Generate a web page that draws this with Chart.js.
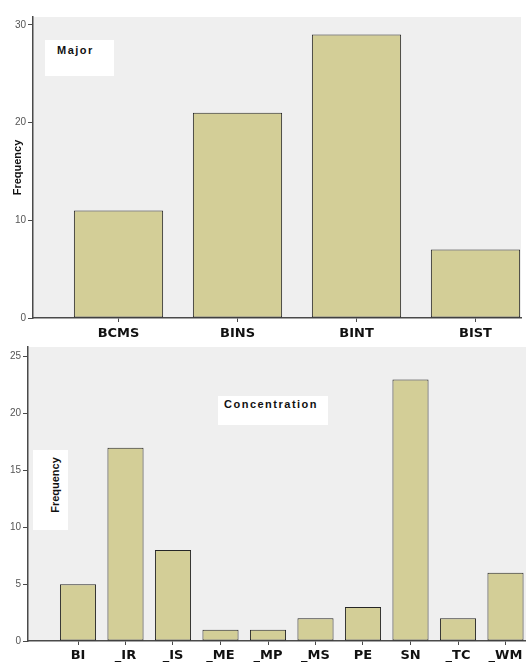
<!DOCTYPE html>
<html>
<head>
<meta charset="utf-8">
<script src="https://cdn.jsdelivr.net/npm/chart.js@4/dist/chart.umd.min.js"></script>
<style>
  html, body { margin: 0; padding: 0; background: #fff; }
  #wrap { position: relative; width: 526px; height: 662px; overflow: hidden; background: #fff; }
  canvas { position: absolute; left: 0; }
  #c1 { top: 0; }
  #c2 { top: 339px; }
  .box { position: absolute; background: #fff; }
  .lbl { position: absolute; font-family: "Liberation Sans", Arial, sans-serif; font-weight: bold; font-size: 11px; line-height: 11px; color: #111; letter-spacing: 1.5px; white-space: nowrap; }
  .rot { position: absolute; font-family: "Liberation Sans", Arial, sans-serif; font-weight: bold; font-size: 11px; line-height: 11px; color: #111; white-space: nowrap; transform: translate(-50%, -50%) rotate(-90deg); }
</style>
</head>
<body>
<div id="wrap">
  <canvas id="c1" width="526" height="340"></canvas>
  <canvas id="c2" width="526" height="323"></canvas>
  <div class="box" style="left:45px;top:40px;width:69px;height:36px;"></div>
  <div class="lbl" style="left:57px;top:45px;">Major</div>
  <div class="box" style="left:218px;top:396px;width:110px;height:29px;"></div>
  <div class="lbl" style="left:224px;top:399px;">Concentration</div>
  <div class="box" style="left:33px;top:450px;width:35px;height:80px;"></div>
  <div class="rot" style="left:55px;top:485px;">Frequency</div>
</div>
<script>
// ---- data ----
const majorLabels = ['BCMS', 'BINS', 'BINT', 'BIST'];
const majorValues = [11, 21, 29, 7];
const majorYTicks = [0, 10, 20, 30];

const concLabels = ['BI', '_IR', '_IS', '_ME', '_MP', '_MS', 'PE', 'SN', '_TC', '_WM'];
const concValues = [5, 17, 8, 1, 1, 2, 3, 23, 2, 6];
const concYTicks = [0, 5, 10, 15, 20, 25];

// ---- styling ----
const BAR_FILL = '#D3CE97';
const BAR_EDGE = '#262626';
const AXIS = '#4a4a4a';
const TICK_FONT = { family: '"Liberation Sans", Arial, sans-serif', size: 10 };
const CAT_FONT = { family: '"DejaVu Sans", Verdana, sans-serif', size: 13, weight: 'bold' };

const areaBg = {
  id: 'areaBg',
  beforeDraw(chart) {
    const { ctx, chartArea: a } = chart;
    ctx.save();
    ctx.fillStyle = '#EFEFEF';
    ctx.fillRect(a.left, a.top, a.right - a.left, a.bottom - a.top);
    ctx.restore();
  }
};

function makeChart(id, labels, values, yTicks, cfg) {
  const data = values.map((v, i) => ({ x: i + 1, y: v }));
  return new Chart(document.getElementById(id), {
    type: 'bar',
    data: {
      datasets: [{
        data: data,
        backgroundColor: BAR_FILL,
        borderColor: BAR_EDGE,
        borderWidth: 1,
        borderSkipped: false,
        categoryPercentage: cfg.catPct,
        barPercentage: 1
      }]
    },
    plugins: [areaBg],
    options: {
      responsive: false,
      animation: false,
      events: [],
      layout: { padding: cfg.padding },
      plugins: { legend: { display: false }, tooltip: { enabled: false } },
      scales: {
        x: {
          type: 'linear',
          offset: false,
          min: cfg.xMin,
          max: cfg.xMax,
          afterBuildTicks(scale) { scale.ticks = labels.map((l, i) => ({ value: i + 1 })); },
          afterFit(scale) { scale.height = cfg.xHeight; },
          grid: { offset: false, drawOnChartArea: false, drawTicks: true, tickLength: 4, color: AXIS },
          border: { display: true, color: AXIS, width: 1.5 },
          ticks: {
            autoSkip: false, maxRotation: 0, padding: cfg.xPad,
            color: '#111', font: CAT_FONT,
            callback: (v) => labels[Math.round(v) - 1] ?? ''
          }
        },
        y: {
          min: 0,
          max: cfg.yMax,
          afterBuildTicks(scale) { scale.ticks = yTicks.map(v => ({ value: v })); },
          afterFit(scale) { scale.width = cfg.yWidth; },
          grid: { drawOnChartArea: false, drawTicks: true, tickLength: 5, color: AXIS },
          border: { display: true, color: AXIS, width: 1.5 },
          ticks: { padding: 2, color: '#555', font: TICK_FONT },
          title: cfg.yTitle
        }
      }
    }
  });
}

makeChart('c1', majorLabels, majorValues, majorYTicks, {
  catPct: 0.75,
  padding: { top: 17, right: 5, left: 0, bottom: 0 },
  xMin: 1 - 85.5 / 119,
  xMax: 1 - 85.5 / 119 + 488 / 119,
  xHeight: 22,
  xPad: 4,
  yMax: 30.8,
  yWidth: 33,
  yTitle: {
    display: true, text: 'Frequency', color: '#111',
    font: { family: '"Liberation Sans", Arial, sans-serif', size: 11, weight: 'bold' },
    padding: { top: 11.4, bottom: 0 }
  }
});

makeChart('c2', concLabels, concValues, concYTicks, {
  catPct: 0.76,
  padding: { top: 0, right: 0, left: 0, bottom: 0 },
  xMin: 1 - 50 / 47.5,
  xMax: 1 - 50 / 47.5 + 498 / 47.5,
  xHeight: 21,
  xPad: 3,
  yMax: 25.85,
  yWidth: 28,
  yTitle: { display: false }
});
</script>
</body>
</html>
